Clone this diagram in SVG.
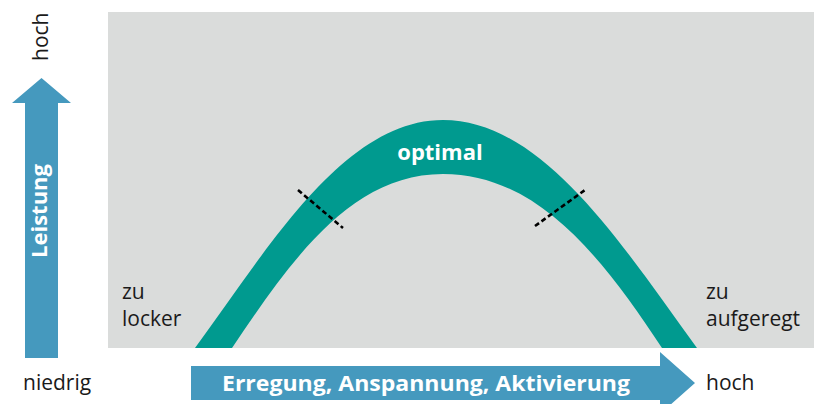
<svg xmlns="http://www.w3.org/2000/svg" width="814" height="404" viewBox="0 0 814 404">
<style>
.lbl{font-family:"Open Sans","Noto Sans","Liberation Sans",sans-serif;font-size:21px;fill:#1a1a1a;}
.wb{font-family:"Open Sans","Noto Sans","Liberation Sans",sans-serif;font-size:22px;font-weight:bold;fill:#ffffff;}
.arrow{fill:#4599be;}
.dash{stroke:#000;stroke-width:2.6;stroke-dasharray:5 3;fill:none;}
</style>
<rect id="background" x="108" y="12" width="706" height="336" fill="#dadcdb"/>
<g id="curve">
<path d="M195 348 C270 245 345 120 443 120 C543 120 622 245 697 348 L662 348 C605 262 540 174 443 174 C350 174 290 262 232 348 Z" fill="#009a8f"/>
<text class="wb" x="440" y="160" text-anchor="middle">optimal</text>
</g>
<g id="connectors">
<line class="dash" x1="298" y1="190" x2="343" y2="228"/>
<line class="dash" x1="535" y1="226" x2="585" y2="190"/>
</g>
<g id="y-axis">
<path class="arrow" d="M25 358 L25 103 L12 103 L41.5 78 L71 103 L58 103 L58 358 Z"/>
<text class="wb" transform="translate(47 211) rotate(-90)" text-anchor="middle">Leistung</text>
<text class="lbl" transform="translate(48 61) rotate(-90)">hoch</text>
<text class="lbl" x="23" y="390">niedrig</text>
</g>
<g id="x-axis">
<path class="arrow" d="M191 366 L660 366 L660 352 L695 383 L660 414 L660 400 L191 400 Z"/>
<text class="wb" x="426" y="391" text-anchor="middle" textLength="408" lengthAdjust="spacingAndGlyphs">Erregung, Anspannung, Aktivierung</text>
<text class="lbl" x="706" y="390">hoch</text>
</g>
<g id="label-left">
<text class="lbl" x="122" y="299">zu</text>
<text class="lbl" x="122" y="326">locker</text>
</g>
<g id="label-right">
<text class="lbl" x="706" y="299">zu</text>
<text class="lbl" x="706" y="326">aufgeregt</text>
</g>
</svg>
